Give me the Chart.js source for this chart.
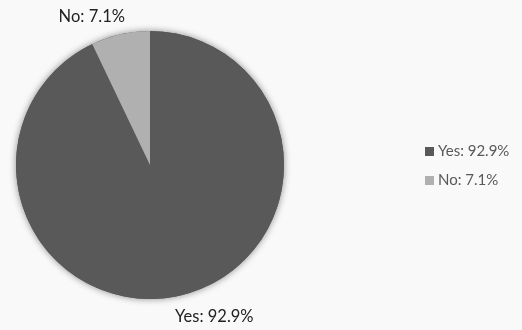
<!DOCTYPE html>
<html>
<head>
<meta charset="utf-8">
<script src="https://cdn.jsdelivr.net/npm/chart.js@4/dist/chart.umd.min.js"></script>
<style>
  body { margin: 0; background: #f9f9f9; }
  #wrap { position: relative; width: 522px; height: 330px; }
  #legend { position: absolute; left: 425px; top: 140px; font: 15px Lato, sans-serif; color: #595959; }
  #legend ul { list-style: none; margin: 0; padding: 0; }
  #legend li { height: 20px; line-height: 20px; margin-bottom: 9px; white-space: nowrap; }
  #legend span.box { display: inline-block; width: 9px; height: 9px; margin-right: 4px; vertical-align: 0px; }
</style>
</head>
<body>
<div id="wrap">
  <canvas id="chart" width="522" height="330"></canvas>
  <div id="legend"></div>
</div>
<script>
const categories = ["Yes", "No"];
const shares = [92.9, 7.1];
const sliceColors = ["#595959", "#b0b0b0"];

const labelText = categories.map((c, i) => c + ": " + shares[i] + "%");

// soft grey glow behind the whole pie
const pieShadow = {
  id: "pieShadow",
  beforeDatasetsDraw(chart) {
    const arc = chart.getDatasetMeta(0).data[0];
    if (!arc) return;
    const { x, y, outerRadius } = arc.getProps(["x", "y", "outerRadius"], true);
    const ctx = chart.ctx;
    ctx.save();
    ctx.shadowColor = "rgba(0,0,0,0.45)";
    ctx.shadowBlur = 7;
    ctx.fillStyle = sliceColors[0];
    ctx.beginPath();
    ctx.arc(x, y, outerRadius, 0, Math.PI * 2);
    ctx.fill();
    ctx.restore();
  }
};

// category labels just outside each slice
const outsideLabels = {
  id: "outsideLabels",
  afterDatasetsDraw(chart) {
    const ctx = chart.ctx;
    ctx.save();
    ctx.font = "16.5px Lato, sans-serif";
    ctx.fillStyle = "#222222";
    ctx.textBaseline = "middle";
    chart.getDatasetMeta(0).data.forEach((arc, i) => {
      const p = arc.getProps(["x", "y", "startAngle", "endAngle", "outerRadius"], true);
      const mid = (p.startAngle + p.endAngle) / 2;
      const cos = Math.cos(mid), sin = Math.sin(mid);
      const ax = p.x + cos * (p.outerRadius + 11);
      const ay = p.y + sin * (p.outerRadius + 11);
      ctx.textAlign = cos < 0 ? "right" : "left";
      ctx.fillText(labelText[i], ax - Math.sign(cos) * 7, ay + Math.sign(sin) * (sin < 0 ? 7 : 10));
    });
    ctx.restore();
  }
};

const htmlLegend = {
  id: "htmlLegend",
  afterUpdate(chart) {
    const box = document.getElementById("legend");
    const items = chart.options.plugins.legend.labels.generateLabels(chart);
    const ul = document.createElement("ul");
    items.forEach(item => {
      const li = document.createElement("li");
      const sw = document.createElement("span");
      sw.className = "box";
      sw.style.background = item.fillStyle;
      li.appendChild(sw);
      li.appendChild(document.createTextNode(item.text));
      ul.appendChild(li);
    });
    box.innerHTML = "";
    box.appendChild(ul);
  }
};

new Chart(document.getElementById("chart"), {
  type: "pie",
  data: {
    labels: labelText,
    datasets: [{
      data: shares,
      backgroundColor: sliceColors,
      borderWidth: 0
    }]
  },
  options: {
    responsive: false,
    animation: false,
    layout: { padding: { left: 16, right: 238, top: 31, bottom: 31 } },
    plugins: {
      legend: { display: false },
      tooltip: { enabled: false }
    }
  },
  plugins: [pieShadow, outsideLabels, htmlLegend]
});
</script>
</body>
</html>
